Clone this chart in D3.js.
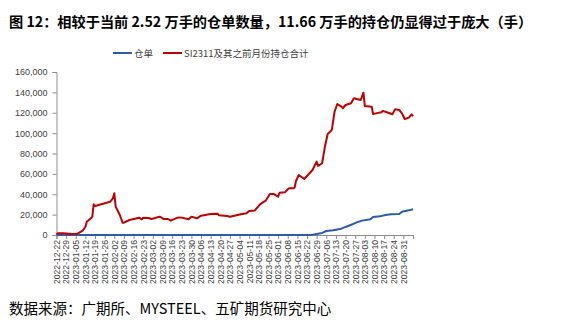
<!DOCTYPE html>
<html><head><meta charset="utf-8">
<script src="https://cdn.jsdelivr.net/npm/d3@7"></script>
<style>
html,body{margin:0;padding:0;background:#fff;}
svg{display:block;}
</style></head>
<body>
<svg id="c" width="565" height="325"></svg>
<script>
const titleText = "图 12：相较于当前 2.52 万手的仓单数量，11.66 万手的持仓仍显得过于庞大（手）";
const sourceText = "数据来源：广期所、MYSTEEL、五矿期货研究中心";
const seriesNames = ["仓单", "SI2311及其之前月份持仓合计"];

const redDates = ["2022-12-22","2022-12-23","2022-12-27","2022-12-29","2023-01-03","2023-01-06","2023-01-10","2023-01-12","2023-01-13","2023-01-16","2023-01-17","2023-01-18","2023-01-19","2023-01-30","2023-02-01","2023-02-02","2023-02-03","2023-02-06","2023-02-08","2023-02-09","2023-02-13","2023-02-17","2023-02-20","2023-02-22","2023-02-23","2023-02-27","2023-03-01","2023-03-03","2023-03-07","2023-03-10","2023-03-13","2023-03-15","2023-03-20","2023-03-22","2023-03-28","2023-03-30","2023-04-03","2023-04-06","2023-04-13","2023-04-18","2023-04-19","2023-04-25","2023-04-27","2023-05-05","2023-05-09","2023-05-11","2023-05-15","2023-05-19","2023-05-23","2023-05-26","2023-05-29","2023-06-01","2023-06-02","2023-06-06","2023-06-08","2023-06-09","2023-06-12","2023-06-13","2023-06-14","2023-06-16","2023-06-20","2023-06-26","2023-06-29","2023-06-30","2023-07-03","2023-07-05","2023-07-07","2023-07-10","2023-07-12","2023-07-14","2023-07-17","2023-07-18","2023-07-20","2023-07-24","2023-07-26","2023-07-31","2023-08-02","2023-08-03","2023-08-08","2023-08-09","2023-08-11","2023-08-15","2023-08-16","2023-08-18","2023-08-23","2023-08-25","2023-08-28","2023-08-30","2023-09-01","2023-09-04","2023-09-06","2023-09-07"];
const redValues = [700,1700,1600,1500,1000,1000,4200,8100,13000,16400,18000,30100,28500,32700,36000,40900,27800,19600,12100,12100,14700,16000,17000,15400,17000,16700,15700,16400,18000,15700,15700,14100,17000,17300,15400,18000,16400,19000,20600,20900,19300,18600,18000,20300,21300,23600,24000,30400,33700,40200,40200,37600,41500,41900,44900,45800,45800,46500,53000,58900,55000,63800,72000,67700,70400,86700,99100,103000,121000,128600,126000,124400,127600,129300,134200,132500,139700,126600,126000,118800,119400,120400,121700,121000,118500,123400,122700,119400,113900,115200,118500,116600];

const blueDates = ["2022-12-22","2023-06-21","2023-06-26","2023-06-28","2023-07-03","2023-07-06","2023-07-11","2023-07-17","2023-07-20","2023-07-25","2023-07-28","2023-08-01","2023-08-07","2023-08-09","2023-08-14","2023-08-18","2023-08-22","2023-08-28","2023-08-30","2023-09-04","2023-09-07"];
const blueValues = [0,0,300,700,2000,3900,4600,6200,7900,10500,12400,14100,15400,17700,18300,19600,20300,20600,22900,24200,25200];

const yTicks = [0,20000,40000,60000,80000,100000,120000,140000,160000];
const xTickLabels = ["2022-12-22","2022-12-29","2023-01-05","2023-01-12","2023-01-19","2023-01-26","2023-02-02","2023-02-09","2023-02-16","2023-02-23","2023-03-02","2023-03-09","2023-03-16","2023-03-23","2023-03-30","2023-04-06","2023-04-13","2023-04-20","2023-04-27","2023-05-04","2023-05-11","2023-05-18","2023-05-25","2023-06-01","2023-06-08","2023-06-15","2023-06-22","2023-06-29","2023-07-06","2023-07-13","2023-07-20","2023-07-27","2023-08-03","2023-08-10","2023-08-17","2023-08-24","2023-08-31"];
const xDomain = ["2022-12-22","2023-09-07"];

const colors = {blue:"#2E5AA8", red:"#C00000", axis:"#8C8C8C", text:"#404040"};
const parse = d3.timeParse("%Y-%m-%d");

const svg = d3.select("#c");
const mLeft = 56.5, mRight = 413, mTop = 72, mBottom = 235;

const x = d3.scaleTime().domain(xDomain.map(parse)).range([mLeft, mRight]);
const y = d3.scaleLinear().domain([0,160000]).range([mBottom, mTop]);

// title
svg.append("text").attr("x",9).attr("y",27)
  .attr("font-family","'Noto Sans CJK SC', sans-serif").attr("font-weight","bold")
  .attr("font-size",14.2).attr("fill","#000").text(titleText);

// legend
const lg = svg.append("g").attr("font-family","'Noto Sans CJK SC', sans-serif").attr("font-size",9.5).attr("fill",colors.text);
lg.append("line").attr("x1",113).attr("x2",132).attr("y1",53).attr("y2",53).attr("stroke",colors.blue).attr("stroke-width",2);
lg.append("text").attr("x",134).attr("y",56.5).text(seriesNames[0]);
lg.append("line").attr("x1",163).attr("x2",182).attr("y1",53).attr("y2",53).attr("stroke",colors.red).attr("stroke-width",2);
lg.append("text").attr("x",184).attr("y",56.5).text(seriesNames[1]);

// y axis
const yAxis = d3.axisLeft(y).tickValues(yTicks).tickSize(4).tickPadding(5).tickFormat(d3.format(","));
const yg = svg.append("g").attr("transform",`translate(${mLeft},0)`).call(yAxis);
yg.select(".domain").attr("stroke",colors.axis);
yg.selectAll(".tick line").attr("stroke",colors.axis);
yg.selectAll(".tick text").attr("font-family","'Liberation Sans', Arial, sans-serif").attr("font-size",9).attr("fill",colors.text);

// x axis
const tickDates = xTickLabels.map(parse).concat([parse(xDomain[1])]);
const xAxis = d3.axisBottom(x).tickValues(tickDates).tickSize(4).tickPadding(2)
  .tickFormat(d => { const s = d3.timeFormat("%Y-%m-%d")(d); return xTickLabels.includes(s) ? s : ""; });
const xg = svg.append("g").attr("transform",`translate(0,${mBottom})`).call(xAxis);
xg.select(".domain").attr("stroke",colors.axis);
xg.selectAll(".tick line").attr("stroke",colors.axis);
xg.selectAll(".tick text")
  .attr("font-family","'Liberation Sans', Arial, sans-serif").attr("font-size",8.6).attr("fill",colors.text)
  .attr("transform","rotate(-90)").attr("text-anchor","end").attr("x",-5).attr("y",0).attr("dy","0.33em");

// lines
const line = d3.line().x(d => x(d[0])).y(d => y(d[1]));
const redData = redDates.map((d,i)=>[parse(d), redValues[i]]);
const blueData = blueDates.map((d,i)=>[parse(d), blueValues[i]]);
svg.append("path").datum(blueData).attr("d",line).attr("fill","none").attr("stroke",colors.blue).attr("stroke-width",2).attr("stroke-linejoin","round");
svg.append("path").datum(redData).attr("d",line).attr("fill","none").attr("stroke",colors.red).attr("stroke-width",2).attr("stroke-linejoin","round");

// source
svg.append("text").attr("x",9).attr("y",314)
  .attr("font-family","'Noto Sans CJK SC', sans-serif").attr("font-size",14.5).attr("fill","#000").text(sourceText);
</script>
</body></html>
